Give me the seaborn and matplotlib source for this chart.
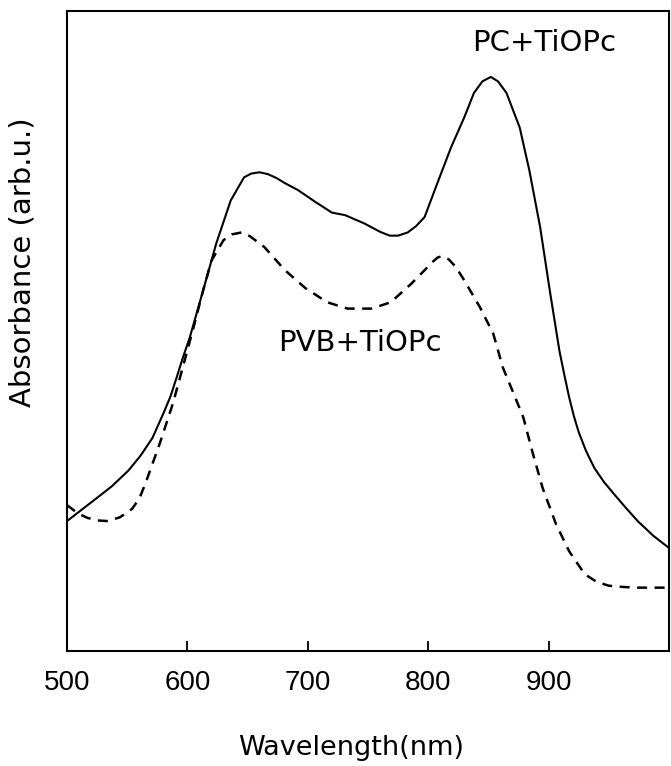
import matplotlib
matplotlib.use("Agg")
import matplotlib.pyplot as plt
import seaborn as sns
import pandas as pd

# Absorption spectra of TiOPc dispersed in two binder polymers
pc_wavelength = [500, 522, 537, 551, 561, 571, 580, 586, 591, 596, 602, 613,
                 624, 636, 647, 653, 660, 667, 674, 681, 692, 706, 720, 731,
                 747, 760, 768, 775, 783, 790, 797, 807, 819, 830, 838, 845,
                 852, 858, 865, 876, 884, 893, 901, 909, 913, 917, 921, 925,
                 931, 938, 946, 954, 964, 974, 987, 1000]
pc_absorbance = [0.203, 0.235, 0.257, 0.282, 0.305, 0.333, 0.371, 0.398, 0.427,
                 0.457, 0.490, 0.563, 0.637, 0.704, 0.740, 0.746, 0.748, 0.745,
                 0.739, 0.731, 0.720, 0.702, 0.685, 0.681, 0.668, 0.655, 0.649,
                 0.649, 0.654, 0.664, 0.678, 0.728, 0.787, 0.834, 0.872, 0.890,
                 0.897, 0.890, 0.872, 0.818, 0.751, 0.662, 0.563, 0.469, 0.432,
                 0.397, 0.367, 0.342, 0.313, 0.286, 0.264, 0.246, 0.224, 0.203,
                 0.180, 0.161]

pvb_wavelength = [500, 509, 517, 525, 534, 544, 554, 560, 565, 577, 588, 597,
                  605, 613, 620, 630, 637, 645, 652, 664, 681, 698, 716, 733,
                  753, 769, 786, 797, 803, 808, 812, 817, 823, 830, 843, 854,
                  862, 871, 879, 887, 895, 906, 917, 930, 940, 950, 962, 974, 1000]
pvb_absorbance = [0.228, 0.215, 0.208, 0.204, 0.203, 0.209, 0.222, 0.238, 0.261,
                  0.324, 0.387, 0.449, 0.505, 0.563, 0.610, 0.642, 0.651, 0.654,
                  0.648, 0.631, 0.595, 0.567, 0.545, 0.535, 0.535, 0.545, 0.574,
                  0.595, 0.607, 0.615, 0.617, 0.612, 0.600, 0.579, 0.537, 0.496,
                  0.443, 0.402, 0.365, 0.308, 0.255, 0.199, 0.156, 0.120, 0.108,
                  0.102, 0.100, 0.099, 0.099]

tick_values = [500, 600, 700, 800, 900]
tick_labels = ["500", "600", "700", "800", "900"]

pc = pd.DataFrame({"wavelength": pc_wavelength, "absorbance": pc_absorbance})
pvb = pd.DataFrame({"wavelength": pvb_wavelength, "absorbance": pvb_absorbance})

sns.set_style("ticks")
plt.rcParams["font.family"] = ["DejaVu Sans"]
plt.rcParams["text.color"] = "black"

W, H = 671, 766
fig = plt.figure(figsize=(W / 100, H / 100), dpi=100)
ax = fig.add_axes([67 / W, (H - 651) / H, (669 - 67) / W, (651 - 11) / H])

sns.lineplot(data=pc, x="wavelength", y="absorbance", ax=ax,
             color="black", linewidth=1.5)
sns.lineplot(data=pvb, x="wavelength", y="absorbance", ax=ax,
             color="black", linewidth=1.8, linestyle=(0, (4, 3)))

ax.set_xlim(500, 1000)
ax.set_ylim(0, 1)
ax.set_xticks(tick_values)
ax.set_xticklabels(tick_labels, family=["Liberation Sans"], fontsize=20,
                   color="black")
ax.set_yticks([])
ax.tick_params(axis="x", which="major", direction="in", length=7, width=1.3,
               pad=14, bottom=True, top=False, color="black")
ax.tick_params(axis="x", which="minor", bottom=False, top=False)
for s in ax.spines.values():
    s.set_visible(True)
    s.set_color("black")
    s.set_linewidth(1.5)

ax.set_xlabel("")
ax.set_ylabel("")

def px_text(x, y, s, **kw):
    fig.text(x / W, 1 - y / H, s, ha="center", va="center", color="black", **kw)

px_text(351, 748, "Wavelength(nm)", fontsize=19.5)
px_text(23, 262, "Absorbance (arb.u.)", rotation=90, fontsize=21)
px_text(544, 43, "PC+TiOPc", fontsize=21)
px_text(360, 343, "PVB+TiOPc", fontsize=21)

fig.savefig("out.png", dpi=100)
